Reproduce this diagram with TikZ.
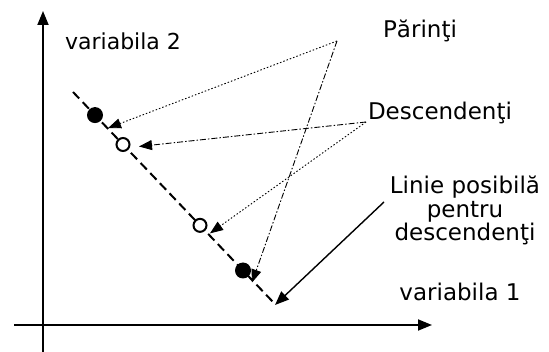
\documentclass[tikz,border=0pt]{standalone}
\usepackage{fontspec}
\setmainfont{DejaVu Sans}
\usetikzlibrary{arrows.meta,calc}
\begin{document}
\begin{tikzpicture}[x=1pt,y=-1pt,
  axis/.style={line width=1.8pt,-{Triangle[length=14pt,width=11pt]}},
  fulldot/.style={circle,fill=black,inner sep=0pt,minimum size=16pt},
  opendot/.style={circle,draw=black,line width=2pt,fill=white,inner sep=0pt,minimum size=13pt},
  lbl/.style={font=\fontsize{23}{23.5}\selectfont,inner sep=0pt,align=center,anchor=base},
  ptr/.style={line width=0.9pt,-{Triangle[length=13pt,width=10pt]}},
  dotptr/.style={ptr,dash pattern=on 1.5pt off 2pt},
  dashdotptr/.style={ptr,dash pattern=on 6pt off 2pt on 1.5pt off 2pt},
  dashline/.style={line width=2pt,dash pattern=on 9pt off 5pt}]
\useasboundingbox (0,0) rectangle (549,352);
% axes
\coordinate (yb) at (43,352);
\coordinate (yt) at (43,11);
\coordinate (xl) at (14,325);
\coordinate (xr) at (432,325);
\draw[axis] (yb) -- (yt);
\draw[axis] (xl) -- (xr);
% possible line
\coordinate (ls) at (73,92);
\coordinate (le) at (273,302);
\draw[dashline] (ls) -- (le);
\node[fulldot] (p1) at ($(ls)!0.11!(le)$) {};
\node[opendot] (c1) at ($(ls)!0.25!(le)$) {};
\node[opendot] (c2) at ($(ls)!0.635!(le)$) {};
\node[fulldot] (p2) at ($(ls)!0.85!(le)$) {};
% labels
\node[lbl,font=\fontsize{22}{24}\selectfont] (v2) at (123,50) {variabila 2};
\node[lbl] (v1) at (460,301) {variabila 1};
\node[lbl] (par) at (420,38) {Părinţi};
\node[lbl] (desc) at (440,120) {Descendenţi};
\node[lbl,anchor=north] (lin) at (465,176) {Linie posibilă\\pentru\\descendenţi};
% pointer sources
\coordinate (ps) at (337,41);
\coordinate (ds) at (366,122);
\coordinate (ls2) at (384,202);
\draw[dotptr] (ps) -- ([shift={(13pt,-13pt)}]p1.center);
\draw[dashdotptr] (ps) -- ([shift={(9pt,-12pt)}]p2.center);
\draw[dashdotptr] (ds) -- ([shift={(16pt,-2pt)}]c1.center);
\draw[dotptr] (ds) -- ([shift={(10pt,-8pt)}]c2.center);
\draw[line width=1.4pt,-{Triangle[length=14pt,width=11pt]}] (ls2) -- ([shift={(2pt,-3pt)}]le);
\end{tikzpicture}
\end{document}
